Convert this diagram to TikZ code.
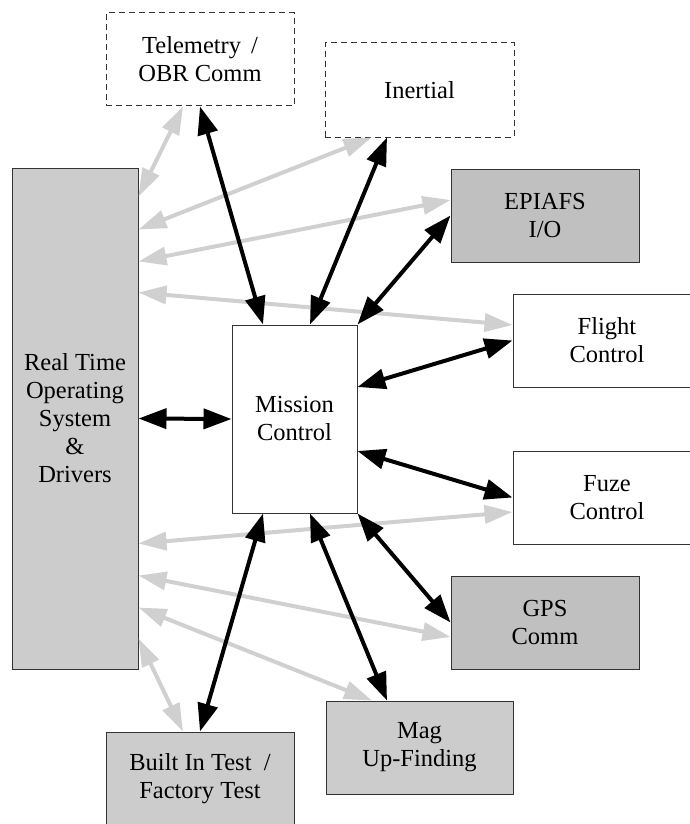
\documentclass[tikz,border=0pt]{standalone}
\usepackage{fontspec}
\setmainfont{Liberation Serif}
\usetikzlibrary{arrows.meta}
\definecolor{boxgray}{HTML}{CCCCCC}
\definecolor{boxdark}{HTML}{C0C0C0}
\definecolor{linegray}{HTML}{D0D0D0}
\definecolor{edge}{HTML}{333333}
\tikzset{
  blk/.style={draw=edge, line width=1pt, align=center, font=\fontsize{24.5}{28}\selectfont,
    minimum width=188pt, minimum height=93pt, inner sep=0pt, fill=white},
  dashbox/.style={blk, dashed, dash pattern=on 6pt off 4pt},
  graybox/.style={blk, fill=boxgray},
  darkbox/.style={blk, fill=boxdark},
  blackarrow/.style={line width=4pt, draw=black,
    {Triangle[length=28pt,width=20pt]}-{Triangle[length=28pt,width=20pt]}},
  grayarrow/.style={line width=4pt, draw=linegray,
    {Triangle[length=28pt,width=18pt]}-{Triangle[length=28pt,width=18pt]}},
}
\begin{document}
\begin{tikzpicture}[x=1pt,y=-1pt]
\useasboundingbox (0,0) rectangle (689,824);
% nodes
\node[dashbox] (tel) at (200,59.5) {Telemetry\hspace{10pt}/\\OBR Comm};
\node[dashbox, minimum width=189pt, minimum height=94pt] (ine) at (419.5,90) {Inertial};
\node[darkbox] (epi) at (545,215.5) {EPIAFS\\I/O};
\node[blk] (fli) at (607,340.5) {Flight\\Control};
\node[blk] (fuz) at (607,497.5) {Fuze\\Control};
\node[darkbox] (gps) at (545,622.5) {GPS\\Comm};
\node[graybox, minimum width=187pt] (mag) at (419.5,747.5) {Mag\\Up-Finding};
\node[graybox] (bit) at (200,778.5) {Built In Test~~/\\Factory Test};
\node[graybox, minimum width=126pt, minimum height=501pt] (rtos) at (75,418.5) {Real Time\\Operating\\System\\\&\\Drivers};
\node[blk, minimum width=125pt, minimum height=188pt] (mis) at (294.5,419) {Mission\\Control};
% gray connectors
\draw[grayarrow] ([yshift=-29pt]rtos.north east) -- ([xshift=-17pt]tel.south);
\draw[grayarrow] ([yshift=-62pt]rtos.north east) -- ([xshift=-48pt]ine.south);
\draw[grayarrow] ([yshift=-94pt]rtos.north east) -- ([yshift=15.5pt]epi.west);
\draw[grayarrow] ([yshift=-125pt]rtos.north east) -- ([yshift=15.5pt]fli.west);
\draw[grayarrow] ([yshift=126pt]rtos.south east) -- ([yshift=-14.5pt]fuz.west);
\draw[grayarrow] ([yshift=94pt]rtos.south east) -- ([yshift=-14.5pt]gps.west);
\draw[grayarrow] ([yshift=62pt]rtos.south east) -- ([xshift=-47.5pt]mag.north);
\draw[grayarrow] ([yshift=31pt]rtos.south east) -- ([xshift=-17pt]bit.north);
% black connectors
\draw[blackarrow] (tel.south) -- ([xshift=-31.5pt]mis.north);
\draw[blackarrow] ([xshift=-32.5pt]ine.south) -- ([xshift=15.5pt]mis.north);
\draw[blackarrow] (epi.west) -- (mis.north east);
\draw[blackarrow] (fli.west) -- ([yshift=32pt]mis.east);
\draw[blackarrow] (fuz.west) -- ([yshift=-32pt]mis.east);
\draw[blackarrow] (gps.west) -- (mis.south east);
\draw[blackarrow] ([xshift=-32.5pt]mag.north) -- ([xshift=15.5pt]mis.south);
\draw[blackarrow] (bit.north) -- ([xshift=-31.5pt]mis.south);
\draw[blackarrow] (rtos.east) -- (mis.west);
\end{tikzpicture}
\end{document}
